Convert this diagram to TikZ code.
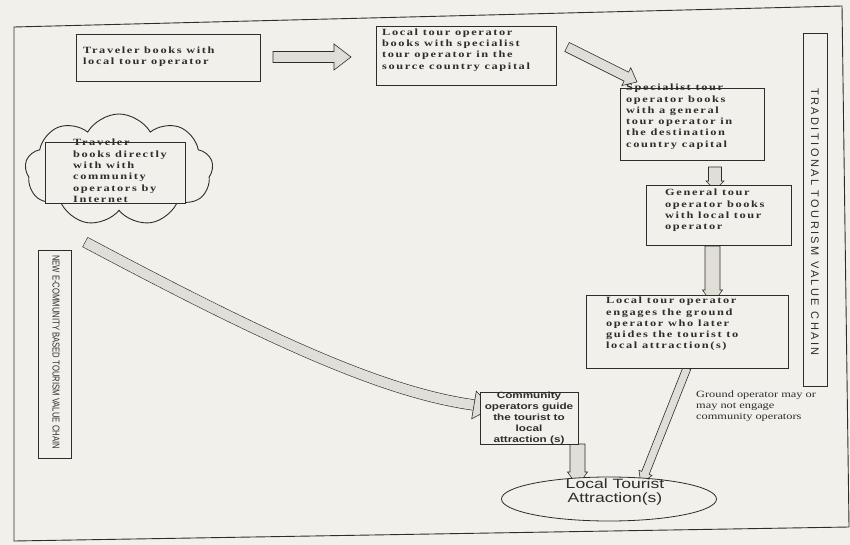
\documentclass[tikz,border=0pt]{standalone}
\usepackage{fontspec}
\usetikzlibrary{shapes.geometric,shapes.symbols,calc,backgrounds}
\setmainfont{Liberation Serif}
\newfontfamily\boxfont{Liberation Serif}[FakeStretch=1.3,LetterSpace=17]
\newfontfamily\sansfontB{Liberation Sans}[FakeStretch=1.3]
\newfontfamily\notefont{Liberation Serif}[FakeStretch=1.3]
\newfontfamily\vertfontA{Liberation Sans}[LetterSpace=22]
\newfontfamily\vertfontB{Liberation Sans}[FakeStretch=0.77]
\definecolor{paper}{RGB}{241,240,234}
\definecolor{ink}{RGB}{45,45,45}
\definecolor{bandfill}{RGB}{224,222,214}
% block arrow: #1 start, #2 tip, #3 shaft half width, #4 head half width, #5 head length
\newcommand\blockarr[5]{%
  \coordinate (bcC) at ($(#2)!#5!(#1)$);
  \draw[blk] ($(#1)!#3!90:(#2)$) -- ($(bcC)!#3!90:(#2)$) -- ($(bcC)!#4!90:(#2)$) -- (#2)
    -- ($(bcC)!#4!-90:(#2)$) -- ($(bcC)!#3!-90:(#2)$) -- ($(#1)!#3!-90:(#2)$) -- cycle;
}
\begin{document}
\begin{tikzpicture}[x=1pt,y=-1pt,
  bx/.style={draw=ink, line width=0.8pt, fill=paper, inner sep=0pt, outer sep=0pt, anchor=north west},
  btxt/.style={font=\boxfont\bfseries\fontsize{9.5}{11.3}\selectfont, text=ink, align=left, inner sep=0pt, anchor=north west},
  blk/.style={draw=ink, line width=0.6pt, fill=bandfill},
  ]
\useasboundingbox (0,0) rectangle (850,545);

% boxes of the traditional chain
\node[bx, minimum width=184pt, minimum height=47pt] (b1) at (76,34) {};
\node[btxt, anchor=west] (t1) at (83,57) {Traveler books with\\local tour operator};
\node[bx, minimum width=180pt, minimum height=59pt] (b2) at (376,26) {};
\node[btxt] (t2) at (382,28.5) {Local tour operator\\books with specialist\\tour operator in the\\source country capital};
\node[bx, minimum width=144pt, minimum height=72pt] (b3) at (620,88) {};
\node[btxt] (t3) at (626,84) {Specialist tour\\operator books\\with a general\\tour operator in\\the destination\\country capital};
\node[bx, minimum width=145pt, minimum height=60pt] (b4) at (646,185) {};
\node[btxt] (t4) at (665,189) {General tour\\operator books\\with local tour\\operator};
\node[bx, minimum width=202pt, minimum height=73pt] (b5) at (586,295) {};
\node[btxt] (t5) at (606,297) {Local tour operator\\engages the ground\\operator who later\\guides the tourist to\\local attraction(s)};

% community chain
\node[cloud, cloud puffs=9, cloud puff arc=120, aspect=1.7, draw=ink, line width=0.9pt, fill=paper,
      minimum width=188pt, minimum height=112pt, inner sep=0pt] (cl) at (119,170) {};
\node[bx, minimum width=140pt, minimum height=61pt] (cb) at (45,142) {};
\node[btxt, anchor=west] (ct) at (73,171) {Traveler\\books directly\\with with\\community\\operators by\\Internet};

\node[bx, minimum width=98pt, minimum height=52pt] (b6) at (480,392) {};
\node[font=\sansfontB\bfseries\fontsize{9}{11}\selectfont, align=center, text=ink, inner sep=0pt] (t6) at (b6.center) {Community\\operators guide\\the tourist to\\local\\attraction (s)};

\node[ellipse, draw=ink, line width=0.8pt, fill=paper, minimum width=215pt, minimum height=44pt, inner sep=0pt] (att) at (609,499) {};
\node[font=\sansfontB\fontsize{13.5}{14}\selectfont, align=center, text=ink, inner sep=0pt] (tatt) at (615,492) {Local Tourist\\Attraction(s)};

% side labels
\node[bx, minimum width=24pt, minimum height=353pt] (rl) at (803,33) {};
\node[rotate=-90, font=\vertfontA\fontsize{11}{11}\selectfont, text=ink, inner sep=0pt] (rlt) at (815,222) {TRADITIONAL TOURISM VALUE CHAIN};
\node[bx, minimum width=33pt, minimum height=208pt] (ll) at (38,250) {};
\node[rotate=-90, font=\vertfontB\fontsize{10}{10}\selectfont, text=ink, inner sep=0pt] (llt) at (56,352) {NEW E-COMMUNITY BASED TOURISM VALUE CHAIN};

\node[font=\notefont\fontsize{9.5}{10.8}\selectfont, align=left, text=ink, inner sep=0pt, anchor=north west] (gn) at (696,391) {Ground operator may or\\may not engage\\community operators};

\begin{pgfonlayer}{background}
\fill[paper] (0,0) rectangle (850,545);
\draw[ink, line width=0.9pt] (14,27) -- (842,6) -- (849,527) -- (14,541) -- cycle;

\coordinate (a1s) at (273,57); \coordinate (a1e) at (351,57);
\blockarr{a1s}{a1e}{5.5pt}{13pt}{17pt}
\coordinate (a2s) at (567,47); \coordinate (a2e) at (637,82);
\blockarr{a2s}{a2e}{5pt}{10pt}{12pt}
\coordinate (a3s) at (715,167); \coordinate (a3e) at (715,190);
\blockarr{a3s}{a3e}{6.5pt}{9pt}{9pt}
\coordinate (a4s) at (712.5,246); \coordinate (a4e) at (712.5,304);
\blockarr{a4s}{a4e}{7.5pt}{10pt}{14pt}
\coordinate (a5s) at (687,368); \coordinate (a5e) at (641,484);
\blockarr{a5s}{a5e}{4pt}{7pt}{12pt}
\coordinate (a6s) at (577.5,444); \coordinate (a6e) at (577.5,486);
\blockarr{a6s}{a6e}{7.5pt}{10pt}{14pt}

% long band from the cloud to the community operators
\coordinate (bandS) at (85,242);
\coordinate (bandE) at (474,405);
\coordinate (bandT) at (492,408);
\draw[ink, line width=11.2pt] (bandS) .. controls (260,335) and (380,392) .. (bandE);
\draw[bandfill, line width=10pt, shorten <=0.6pt] (bandS) .. controls (260,335) and (380,392) .. (bandE);
\draw[blk] ($(bandE)!14pt!90:(bandT)$) -- (bandT) -- ($(bandE)!14pt!-90:(bandT)$) -- cycle;
\end{pgfonlayer}
\end{tikzpicture}
\end{document}
